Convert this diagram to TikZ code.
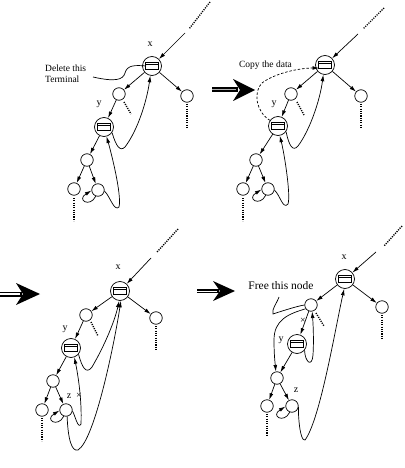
\documentclass[tikz,border=0pt]{standalone}
\usepackage{fontspec}
\setmainfont{Liberation Serif}
\usetikzlibrary{arrows.meta,calc}
\tikzset{
  sn/.style={circle,draw,line width=0.7pt,minimum size=12.5pt,inner sep=0pt},
  bn/.style={circle,draw,line width=0.7pt,minimum size=19pt,inner sep=0pt,
    path picture={
      \draw[line width=0.7pt] ([xshift=-6.5pt,yshift=-3.3pt]path picture bounding box.center) rectangle ([xshift=6.5pt,yshift=3.3pt]path picture bounding box.center);
      \draw[line width=0.5pt] ([xshift=-6.5pt,yshift=1.4pt]path picture bounding box.center) -- ([xshift=6.5pt,yshift=1.4pt]path picture bounding box.center);
    }},
  edge/.style={draw,line width=0.7pt,-{Latex[length=6.5pt,width=3.8pt]}},
  plain/.style={draw,line width=0.7pt},
  dots/.style={line width=1.4pt,dash pattern=on 1.1pt off 1.2pt},
  dashedline/.style={draw,line width=0.7pt,dash pattern=on 2.5pt off 1.8pt,-{Latex[length=6.5pt,width=3.8pt]}},
  lbl/.style={font=\fontsize{10}{10}\selectfont,inner sep=0pt},
  txt/.style={font=\fontsize{9.5}{10.5}\selectfont,inner sep=0pt},
}
\begin{document}
\begin{tikzpicture}[x=1pt,y=-1pt]
\useasboundingbox (0,0) rectangle (404,468);

% ================= Panel 1 =================
\node[bn] (x1) at (152,66) {};
\node[lbl] (lx1) at (150,44) {x};
\node[sn] (a1) at (119,94) {};
\node[sn] (b1) at (187,96) {};
\node[bn] (y1) at (104,127) {};
\node[lbl] (ly1) at (99,104) {y};
\node[sn] (c1) at (87,160) {};
\node[sn] (d1) at (74,189) {};
\node[sn] (e1) at (98,190) {};
\coordinate (p1a) at (210,2); \coordinate (p1b) at (189,29); \coordinate (p1c) at (185,33);
\draw[dots] (p1a) -- (p1b);
\draw[edge] (p1c) -- (x1);
\draw[edge] (x1) -- (a1);
\draw[edge] (x1) -- (b1);
\draw[edge] (a1) -- (y1);
\draw[edge] (y1) -- (c1);
\draw[edge] (c1) -- (d1);
\draw[edge] (c1) -- (e1);
\coordinate (q1a) at (187,104); \coordinate (q1b) at (187,128);
\draw[dots] (q1a) -- (q1b);
\coordinate (r1a) at (124,102); \coordinate (r1b) at (131,114);
\draw[dots] (r1a) -- (r1b);
\coordinate (s1a) at (74,198); \coordinate (s1b) at (74,221);
\draw[dots] (s1a) -- (s1b);
\draw[edge] (e1.250) .. controls (90,208) and (76,200) .. (e1.185);
\draw[edge] (e1.-10) .. controls (110,196) and (114,212) .. (119,207) .. controls (122,195) and (111,152) .. (y1.-75);
\draw[edge] (y1.-35) .. controls (116,146) and (120,152) .. (125,147) .. controls (138,130) and (147,100) .. (x1.-100);
\node[txt,anchor=west,align=left] (t1) at (45,74) {Delete this\\Terminal};
\coordinate (dl1) at (93,77); \coordinate (dl2) at (146,66);
\draw[plain] (dl1) .. controls (115,82) and (123,80) .. (125,73) .. controls (127,65) and (135,65) .. (dl2);

% ================= Arrow A =================
\coordinate (A0) at (212,90); \coordinate (A1) at (255,90);
\draw[line width=5pt] (A0) -- ($(A1)+(-17,0)$);
\draw[gray!60,line width=1pt] (A0) -- ($(A1)+(-19,0)$);
\fill (A1) -- ++(-22,-11) -- ++(7,11) -- ++(-7,11) -- cycle;

% ================= Panel 2 =================
\node[bn] (x2) at (325,65) {};
\node[sn] (a2) at (291,94) {};
\node[sn] (b2) at (361,96) {};
\node[bn] (y2) at (278,126) {};
\node[lbl] (ly2) at (274,104) {y};
\node[sn] (c2) at (256,160) {};
\node[sn] (d2) at (243,189) {};
\node[sn] (e2) at (268,189) {};
\coordinate (p2a) at (384,8); \coordinate (p2b) at (363,29); \coordinate (p2c) at (358,34);
\draw[dots] (p2a) -- (p2b);
\draw[edge] (p2c) -- (x2);
\draw[edge] (x2) -- (a2);
\draw[edge] (x2) -- (b2);
\draw[edge] (a2) -- (y2);
\draw[edge] (y2) -- (c2);
\draw[edge] (c2) -- (d2);
\draw[edge] (c2) -- (e2);
\coordinate (q2a) at (361,104); \coordinate (q2b) at (361,128);
\draw[dots] (q2a) -- (q2b);
\coordinate (r2a) at (297,102); \coordinate (r2b) at (304,115);
\draw[dots] (r2a) -- (r2b);
\coordinate (s2a) at (243,198); \coordinate (s2b) at (243,221);
\draw[dots] (s2a) -- (s2b);
\draw[edge] (e2.250) .. controls (260,207) and (246,199) .. (e2.185);
\draw[edge] (e2.-10) .. controls (280,195) and (283,210) .. (288,204) .. controls (291,195) and (284,152) .. (y2.-80);
\draw[edge] (y2.-35) .. controls (289,146) and (293,152) .. (298,146) .. controls (310,130) and (320,100) .. (x2.-100);
\coordinate (cp2) at (319,68);
\draw[dashedline] (y2.145) .. controls (256,112) and (253,92) .. (262,83) .. controls (275,73) and (300,68) .. (cp2);
\node[txt] (t2) at (265.5,65) {Copy the data};

% ================= Arrow B =================
\coordinate (B0) at (0,294); \coordinate (B1) at (40,294);
\draw[line width=5pt] (B0) -- ($(B1)+(-18,0)$);
\draw[white,line width=1.1pt] (B0) -- ($(B1)+(-20,0)$);
\fill (B1) -- ++(-24,-11) -- ++(7,11) -- ++(-7,11) -- cycle;

% ================= Panel 3 =================
\node[bn] (x3) at (120,291) {};
\node[lbl] (lx3) at (118,267) {x};
\node[sn] (a3) at (86,315) {};
\node[sn] (b3) at (156,318) {};
\node[bn] (y3) at (71,348) {};
\node[lbl] (ly3) at (65,329) {y};
\node[sn] (c3) at (53,381) {};
\node[sn] (d3) at (42,410) {};
\node[sn] (e3) at (66,410) {};
\node[lbl] (lz3) at (69,396) {z};
\node[lbl] (cx3) at (79,396) {×};
\coordinate (p3a) at (178,229); \coordinate (p3b) at (157,252); \coordinate (p3c) at (151,258);
\draw[dots] (p3a) -- (p3b);
\draw[edge] (p3c) -- (x3);
\draw[edge] (x3) -- (a3);
\draw[edge] (x3) -- (b3);
\draw[edge] (a3) -- (y3);
\draw[edge] (y3) -- (c3);
\draw[edge] (c3) -- (d3);
\draw[edge] (c3) -- (e3);
\coordinate (q3a) at (156,326); \coordinate (q3b) at (156,351);
\draw[dots] (q3a) -- (q3b);
\coordinate (r3a) at (91,322); \coordinate (r3b) at (98,336);
\draw[dots] (r3a) -- (r3b);
\coordinate (s3a) at (42,418); \coordinate (s3b) at (42,441);
\draw[dots] (s3a) -- (s3b);
\draw[edge] (e3.250) .. controls (58,428) and (44,420) .. (e3.185);
\draw[edge] (y3.-40) .. controls (82,367) and (86,375) .. (92,367) .. controls (105,345) and (115,320) .. (x3.-95);
\draw[edge] (e3.-10) .. controls (75,415) and (78,430) .. (81,424) .. controls (82,400) and (78,375) .. (y3.-70);
\draw[edge] (e3.-80) .. controls (68,440) and (72,452) .. (78,450) .. controls (95,440) and (115,340) .. (x3.-85);

% ================= Arrow C =================
\coordinate (C0) at (197,291); \coordinate (C1) at (235,291);
\draw[line width=4.5pt] (C0) -- ($(C1)+(-16,0)$);
\draw[white,line width=1pt] (C0) -- ($(C1)+(-18,0)$);
\fill (C1) -- ++(-22,-10) -- ++(7,10) -- ++(-7,10) -- cycle;

% ================= Panel 4 =================
\node[bn] (x4) at (345,279) {};
\node[lbl] (lx4) at (344,257) {x};
\node[sn] (a4) at (311,305) {};
\node[sn] (b4) at (382,307) {};
\node[bn] (y4) at (297,344) {};
\node[lbl] (ly4) at (281,340) {y};
\node[sn] (c4) at (277,378) {};
\node[sn] (d4) at (267,406) {};
\node[sn] (e4) at (292,406) {};
\node[lbl] (lz4) at (296,390) {z};
\node[lbl] (cx4) at (303,321) {×};
\coordinate (p4a) at (402,226); \coordinate (p4b) at (384,246); \coordinate (p4c) at (376,252);
\draw[dots] (p4a) -- (p4b);
\draw[edge] (p4c) -- (x4);
\draw[edge] (x4) -- (a4);
\draw[edge] (x4) -- (b4);
\draw[edge] (a4) -- (y4);
\draw[edge] (y4) -- (c4);
\draw[edge] (c4) -- (d4);
\draw[edge] (c4) -- (e4);
\coordinate (q4a) at (382,315); \coordinate (q4b) at (382,340);
\draw[dots] (q4a) -- (q4b);
\coordinate (r4a) at (316,313); \coordinate (r4b) at (324,326);
\draw[dots] (r4a) -- (r4b);
\coordinate (s4a) at (267,414); \coordinate (s4b) at (267,436);
\draw[dots] (s4a) -- (s4b);
\draw[edge] (e4.250) .. controls (284,424) and (270,416) .. (e4.185);
\draw[edge] (e4.-10) .. controls (298,415) and (300,442) .. (305,440) .. controls (320,420) and (335,330) .. (x4.-95);
\draw[edge] (a4.215) .. controls (288,314) and (274,320) .. (274,340) .. controls (274,355) and (275,362) .. (c4.100);
\draw[edge] (y4.-40) .. controls (305,362) and (312,368) .. (313,355) .. controls (314,340) and (313,322) .. (a4.-80);
\node[font=\fontsize{11.5}{12}\selectfont,inner sep=0pt] (t4) at (281,286) {Free this node};
\coordinate (fl1) at (279,297); \coordinate (fl2) at (273,314);
\draw[plain] (fl1) .. controls (276,305) and (272,308) .. (fl2) .. controls (285,310) and (298,306) .. (a4.west);
\end{tikzpicture}
\end{document}
